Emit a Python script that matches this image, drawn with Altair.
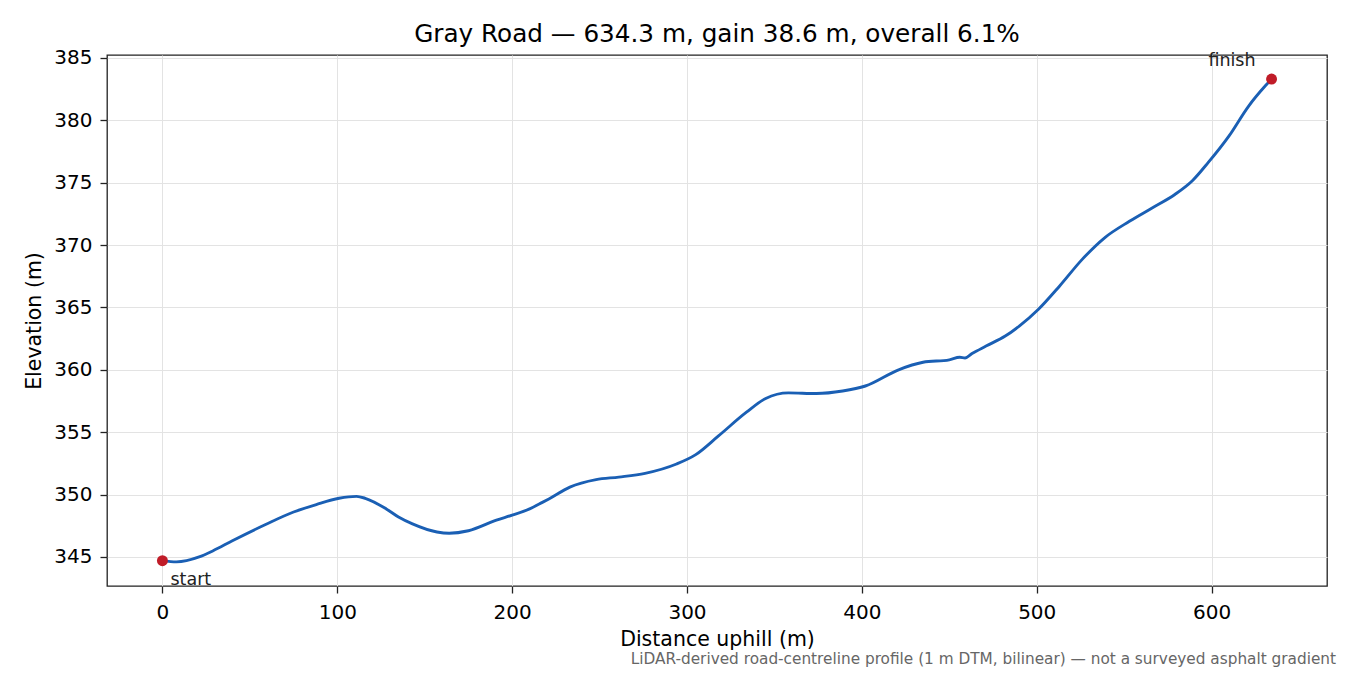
"""Elevation profile of Gray Road, uphill."""

import altair as alt
import pandas as pd

# distance along the road (m) and elevation (m)
distance = [0, 8, 21, 29, 40, 59, 75, 88, 101, 111, 116, 128, 135, 143, 157,
            164, 175, 191, 200, 210, 217, 221, 233, 248, 261, 276, 294, 305,
            318, 334, 345, 358, 374, 389, 402, 421, 435, 450, 456, 459, 463,
            471, 482, 490, 501, 513, 526, 539, 553, 566, 579, 589, 598, 610,
            621, 631, 634.3]
elevation = [344.7, 344.6, 345.0, 345.5, 346.3, 347.6, 348.6, 349.2, 349.7,
             349.85, 349.7, 348.85, 348.2, 347.65, 347.0, 346.9, 347.1, 347.95,
             348.35, 348.85, 349.35, 349.65, 350.6, 351.2, 351.4, 351.7, 352.45,
             353.2, 354.7, 356.6, 357.7, 358.15, 358.1, 358.3, 358.7, 360.0,
             360.6, 360.8, 361.0, 360.95, 361.3, 361.9, 362.7, 363.5, 364.85,
             366.7, 368.85, 370.6, 371.9, 372.97, 374.05, 375.15, 376.6, 378.75,
             381.1, 382.8, 383.3]

end_labels = ["start", "finish"]
end_distance = [0, 634.3]
end_elevation = [344.7, 383.3]

x_ticks = [0, 100, 200, 300, 400, 500, 600]
y_ticks = [345, 350, 355, 360, 365, 370, 375, 380, 385]

title = "Gray Road \u2014 634.3 m, gain 38.6 m, overall 6.1%"
footnote = ("LiDAR-derived road-centreline profile (1 m DTM, bilinear) "
            "\u2014 not a surveyed asphalt gradient")

profile = pd.DataFrame({"d": distance, "z": elevation})
ends = pd.DataFrame({"label": end_labels, "d": end_distance, "z": end_elevation})

FONT = "DejaVu Sans"

x = alt.X("d:Q", title="Distance uphill (m)",
          scale=alt.Scale(domain=[-31.7, 666.0], nice=False, zero=False),
          axis=alt.Axis(values=x_ticks, labelPadding=9, titlePadding=7))
y = alt.Y("z:Q", title="Elevation (m)",
          scale=alt.Scale(domain=[342.67, 385.23], nice=False, zero=False),
          axis=alt.Axis(values=y_ticks, labelPadding=8, titlePadding=9))

line = alt.Chart(profile).mark_line(
    color="#1a5fb4", strokeWidth=2.9, interpolate="monotone"
).encode(x=x, y=y)

dots = alt.Chart(ends).mark_circle(color="#c01c28", size=120, opacity=1).encode(
    x="d:Q", y="z:Q"
)

start_text = alt.Chart(ends[ends.label == "start"]).mark_text(
    align="left", baseline="middle", dx=8, dy=19, font=FONT, fontSize=17.5,
    color="#222222"
).encode(x="d:Q", y="z:Q", text="label:N")

finish_text = alt.Chart(ends[ends.label == "finish"]).mark_text(
    align="right", baseline="middle", dx=-16, dy=-18, font=FONT, fontSize=17.5,
    color="#222222"
).encode(x="d:Q", y="z:Q", text="label:N")

note = alt.Chart(pd.DataFrame({"t": [footnote]})).mark_text(
    align="right", baseline="middle", font=FONT, fontSize=15.3, color="#666666"
).encode(x=alt.value(1229), y=alt.value(604), text="t:N")

chart = alt.layer(line, dots, start_text, finish_text, note).properties(
    width=1220,
    height=531,
    autosize=alt.AutoSizeParams(type="none"),
    padding={"left": 99, "top": 47, "right": 15, "bottom": 88},
    title=alt.TitleParams(title, font=FONT, fontSize=24.7, fontWeight="normal",
                          color="black", anchor="middle", offset=1),
).configure_view(
    stroke="#222222", strokeWidth=1.3
).configure_axis(
    labelFont=FONT, labelFontSize=20, labelColor="black",
    titleFont=FONT, titleFontSize=20.5, titleFontWeight="normal",
    titleColor="black", domain=False, tickColor="#222222", tickWidth=1.3,
    tickSize=7, grid=True, gridColor="#e3e3e3", gridWidth=1,
)

chart.save("out.html", embed_options={"renderer": "svg", "actions": False})
